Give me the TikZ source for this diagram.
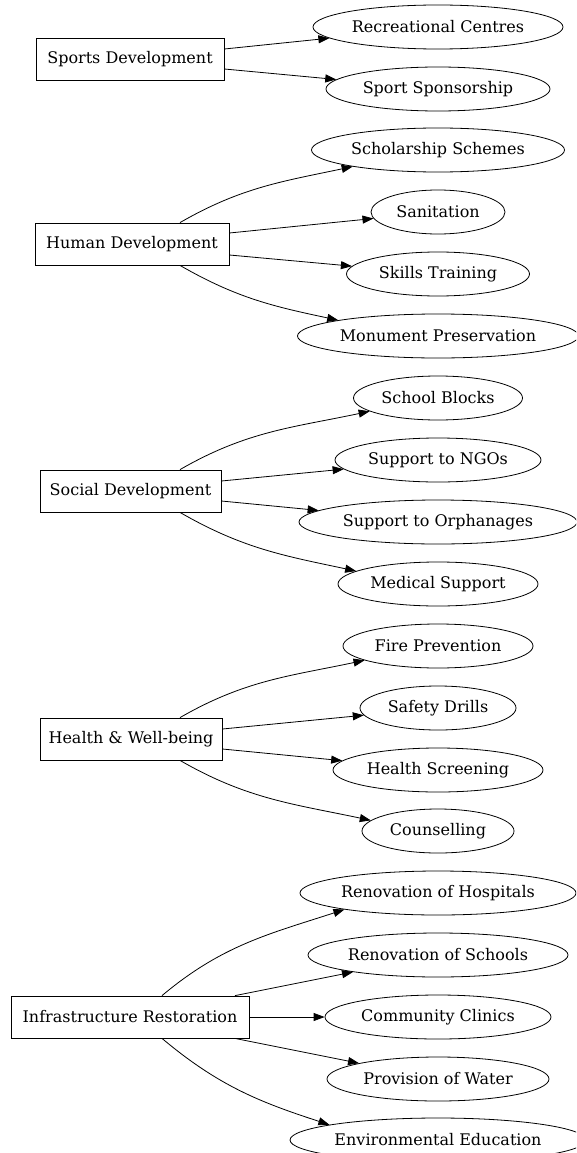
\documentclass[tikz,border=0pt]{standalone}
\usepackage{fontspec}
\setmainfont{DejaVu Serif}
\usetikzlibrary{shapes.geometric,arrows.meta}
\begin{document}
\begin{tikzpicture}[x=1pt,y=-1pt,
  box/.style={draw, rectangle, minimum height=42pt, inner sep=2pt, font=\fontsize{16}{18}\selectfont, line width=0.8pt},
  leaf/.style={draw, ellipse, minimum height=44pt, inner sep=0pt, font=\fontsize{16}{18}\selectfont, line width=0.8pt},
  edge/.style={-{Triangle[length=11pt,width=8pt]}, line width=0.8pt}]
\useasboundingbox (0,0) rectangle (576,1153);
\clip (0,0) rectangle (576,1153);

% Sports
\node[box, minimum width=188pt] (sd) at (130,59) {Sports Development};
\node[leaf, minimum width=250pt] (rc) at (438,27) {Recreational Centres};
\node[leaf, minimum width=224pt] (ssp) at (438,89) {Sport Sponsorship};
\draw[edge] ([yshift=10pt]sd.east) -- (rc);
\draw[edge] ([yshift=-10pt]sd.east) -- (ssp);

% Human
\node[box, minimum width=194pt] (hd) at (132,244) {Human Development};
\node[leaf, minimum width=253pt] (sch) at (438,150) {Scholarship Schemes};
\node[leaf, minimum width=134pt] (san) at (438,212) {Sanitation};
\node[leaf, minimum width=183pt] (skt) at (438,274) {Skills Training};
\node[leaf, minimum width=281pt] (mon) at (438,336) {Monument Preservation};
\draw[edge] ([xshift=48pt]hd.north) to[out=30,in=192] (sch.191);
\draw[edge] ([yshift=11pt]hd.east) -- (san);
\draw[edge] ([yshift=-11pt]hd.east) -- (skt);
\draw[edge] ([xshift=48pt]hd.south) to[out=-30,in=168] (mon.171);

% Social
\node[box, minimum width=181pt] (sod) at (130.5,491) {Social Development};
\node[leaf, minimum width=169pt] (sb) at (438,398) {School Blocks};
\node[leaf, minimum width=206pt] (ngo) at (438,460) {Support to NGOs};
\node[leaf, minimum width=278pt] (orp) at (438,522) {Support to Orphanages};
\node[leaf, minimum width=200pt] (med) at (438,584) {Medical Support};
\draw[edge] ([xshift=49.5pt]sod.north) to[out=30,in=192] (sb.191);
\draw[edge] ([yshift=10pt]sod.east) -- (ngo);
\draw[edge] ([yshift=-10pt]sod.east) -- (orp);
\draw[edge] ([xshift=49.5pt]sod.south) to[out=-30,in=168] (med.171);

% Health
\node[box, minimum width=182pt] (hw) at (131,739) {Health \& Well-being};
\node[leaf, minimum width=190pt] (fire) at (438,646) {Fire Prevention};
\node[leaf, minimum width=156pt] (drill) at (438,708) {Safety Drills};
\node[leaf, minimum width=210pt] (hscr) at (438,770) {Health Screening};
\node[leaf, minimum width=152pt] (couns) at (438,831) {Counselling};
\draw[edge] ([xshift=49pt]hw.north) to[out=30,in=192] (fire.191);
\draw[edge] ([yshift=10pt]hw.east) -- (drill);
\draw[edge] ([yshift=-10pt]hw.east) -- (hscr);
\draw[edge] ([xshift=49pt]hw.south) to[out=-30,in=168] (couns.171);

% Infrastructure
\node[box, minimum width=238pt] (ir) at (130,1017) {Infrastructure Restoration};
\node[leaf, minimum width=276pt] (hosp) at (438,893) {Renovation of Hospitals};
\node[leaf, minimum width=260pt] (schl) at (438,955) {Renovation of Schools};
\node[leaf, minimum width=226pt] (clin) at (438,1017) {Community Clinics};
\node[leaf, minimum width=222pt] (water) at (438,1079) {Provision of Water};
\node[leaf, minimum width=296pt] (env) at (438,1140) {Environmental Education};
\draw[edge] ([xshift=32pt]ir.north) to[out=40,in=198] (hosp.190);
\draw[edge] ([xshift=105pt]ir.north) -- (schl);
\draw[edge] (ir.east) -- (clin);
\draw[edge] ([xshift=105pt]ir.south) -- (water);
\draw[edge] ([xshift=32pt]ir.south) to[out=-40,in=162] (env.172);
\end{tikzpicture}
\end{document}
